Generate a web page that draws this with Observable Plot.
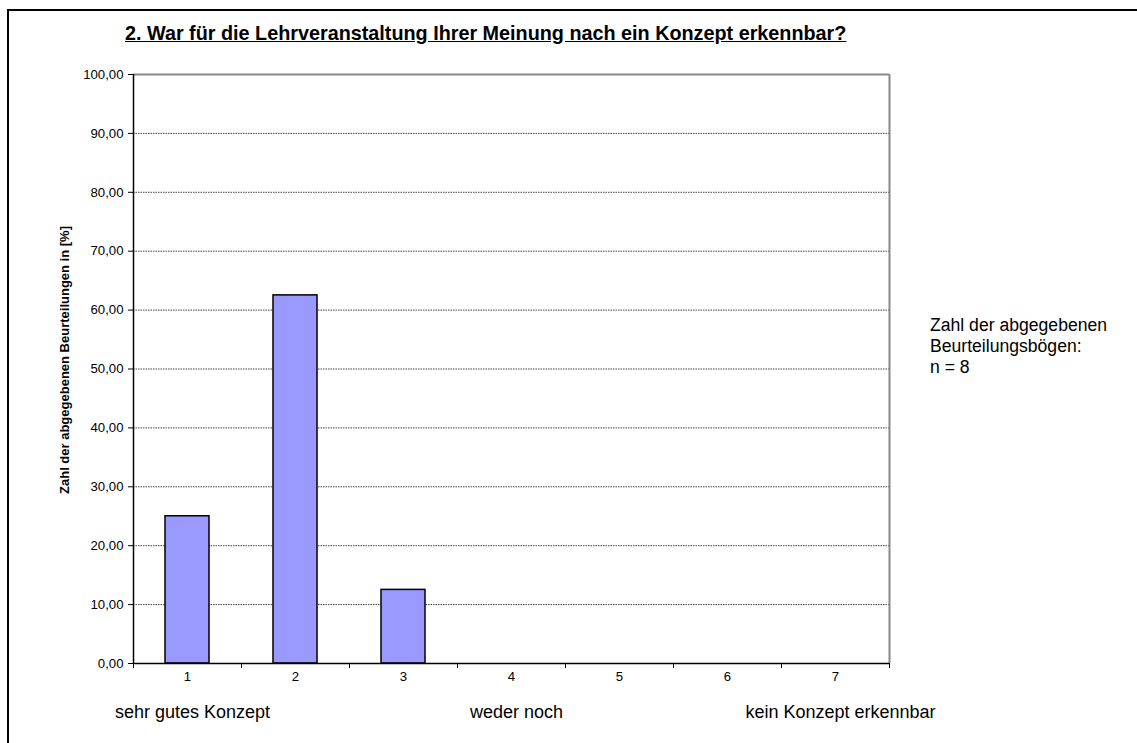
<!DOCTYPE html>
<html>
<head>
<meta charset="utf-8">
<script src="https://cdn.jsdelivr.net/npm/d3@7"></script>
<script src="https://cdn.jsdelivr.net/npm/@observablehq/plot@0.6"></script>
<style>
  html, body { margin: 0; padding: 0; background: #fff; }
  #wrap { position: relative; width: 1137px; height: 743px; overflow: hidden; font-family: "Liberation Sans", Arial, sans-serif; }
  #frame { position: absolute; left: 7px; top: 9px; width: 2000px; height: 2000px; border-left: 2px solid #000; border-top: 2px solid #000; box-sizing: border-box; }
  #title { position: absolute; left: 125px; top: 22px; font-size: 19.8px; line-height: 22px; font-weight: bold; text-decoration: underline; white-space: nowrap; color: #000; }
  #note { position: absolute; left: 930px; top: 315px; font-size: 17.6px; line-height: 21px; color: #000; white-space: nowrap; }
  #chart { position: absolute; left: 0; top: 0; }
</style>
</head>
<body>
<div id="wrap">
  <div id="chart"></div>
  <div id="frame"></div>
  <div id="title"></div>
  <div id="note"></div>
</div>
<script>
const titleText = "2. War für die Lehrveranstaltung Ihrer Meinung nach ein Konzept erkennbar?";
const yLabel = "Zahl der abgegebenen Beurteilungen in [%]";
const noteLines = ["Zahl der abgegebenen", "Beurteilungsbögen:", "n = 8"];
const categories = [1, 2, 3, 4, 5, 6, 7];
const values = [25, 62.5, 12.5, 0, 0, 0, 0];
const yTicks = [0, 10, 20, 30, 40, 50, 60, 70, 80, 90, 100];
const scaleLabels = [
  {cat: 1, label: "sehr gutes Konzept"},
  {cat: 4, label: "weder noch"},
  {cat: 7, label: "kein Konzept erkennbar"}
];

document.getElementById("title").textContent = titleText;
document.getElementById("note").innerHTML = noteLines.join("<br>");

const data = categories.map((c, i) => ({cat: c, value: values[i]}));
const bounds = [categories[0] - 0.5, ...categories.map(c => c + 0.5)];
const gridTicks = yTicks.filter(t => t > 0 && t < 100);

const chart = Plot.plot({
  width: 1137,
  height: 743,
  marginLeft: 133,
  marginRight: 248,
  marginTop: 74,
  marginBottom: 80,
  style: {fontFamily: "Liberation Sans, Arial, sans-serif", background: "transparent", color: "#000"},
  x: {type: "linear", domain: [bounds[0], bounds[bounds.length - 1]]},
  y: {domain: [0, 100]},
  marks: [
    Plot.ruleY(gridTicks, {stroke: "#444", strokeWidth: 1, strokeDasharray: "1.5,1"}),
    Plot.rectY(data.filter(d => d.value > 0), {
      x1: d => d.cat - 0.5, x2: d => d.cat + 0.5, y1: 0, y2: "value",
      insetLeft: 32, insetRight: 32,
      fill: "#9999ff", stroke: "#000", strokeWidth: 1.5
    }),
    Plot.ruleY([100], {stroke: "#888", strokeWidth: 2}),
    Plot.ruleX([bounds[bounds.length - 1]], {stroke: "#888", strokeWidth: 2}),
    Plot.ruleX([bounds[0]], {stroke: "#000", strokeWidth: 1.5}),
    Plot.ruleY([0], {stroke: "#000", strokeWidth: 1.5}),
    Plot.axisY({
      ticks: yTicks, tickSize: 5, tickPadding: 5, fontSize: 13.2,
      tickFormat: d => d.toFixed(2).replace(".", ","),
      label: null, stroke: "#000", strokeWidth: 1
    }),
    Plot.axisX({ticks: bounds, tickSize: 5, tickFormat: () => "", label: null, stroke: "#000", strokeWidth: 1}),
    Plot.axisX({ticks: categories, tickSize: 0, tickPadding: 8, fontSize: 13.2, tickFormat: d => String(d), label: null}),
    Plot.text([yLabel], {
      text: d => d, frameAnchor: "left", textAnchor: "middle", rotate: -90, dx: -69, dy: -9,
      fontSize: 13, fontWeight: "bold", fill: "#000"
    }),
    Plot.text(scaleLabels, {
      x: "cat", text: "label", frameAnchor: "bottom", dy: 54, dx: 5,
      fontSize: 18, fill: "#000"
    })
  ]
});
document.getElementById("chart").appendChild(chart);
</script>
</body>
</html>
